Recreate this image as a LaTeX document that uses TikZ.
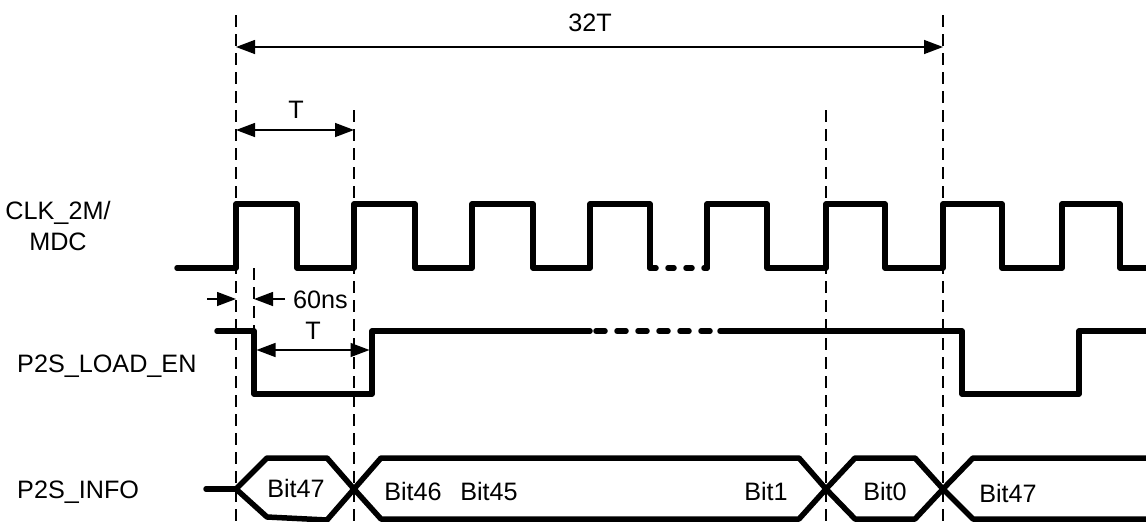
\documentclass[tikz,border=0pt]{standalone}
\usepackage{fontspec}
\setmainfont{Liberation Sans}
\usetikzlibrary{arrows.meta}
\begin{document}
\begin{tikzpicture}[x=1pt,y=-1pt,
  sig/.style={line width=5.5pt, line cap=round, line join=round},
  sigdots/.style={line width=5.5pt, line cap=round, dash pattern=on 6pt off 12pt},
  sigdash/.style={line width=5.5pt, line cap=round, dash pattern=on 9pt off 12pt},
  gridline/.style={line width=2.2pt, dash pattern=on 12pt off 7pt},
  dimarrow/.style={line width=1.4pt, {Triangle[length=19pt,width=14pt]}-{Triangle[length=19pt,width=14pt]}},
  onearrow/.style={line width=1.4pt, -{Triangle[length=19pt,width=14pt]}},
  lbl/.style={font=\fontsize{25.2}{31}\selectfont, inner sep=0pt, anchor=base},
]
\useasboundingbox (0,0) rectangle (1146,522);
% vertical dashed reference lines
\coordinate (g1t) at (236,15);  \coordinate (g1b) at (236,524);
\coordinate (g2t) at (354,110); \coordinate (g2b) at (354,524);
\coordinate (g3t) at (826,110); \coordinate (g3b) at (826,524);
\coordinate (g4t) at (943,15);  \coordinate (g4b) at (943,524);
\coordinate (g5t) at (254,268); \coordinate (g5b) at (254,331);
\draw[gridline] (g1t) -- (g1b);
\draw[gridline] (g2t) -- (g2b);
\draw[gridline] (g3t) -- (g3b);
\draw[gridline] (g4t) -- (g4b);
\draw[gridline] (g5t) -- (g5b);
% dimension arrows
\coordinate (a32l) at (236,47); \coordinate (a32r) at (943,47);
\draw[dimarrow] (a32l) -- (a32r);
\node[lbl] (t32) at (590,31) {32T};
\coordinate (aTl) at (236,130); \coordinate (aTr) at (354,130);
\draw[dimarrow] (aTl) -- (aTr);
\node[lbl] (tT1) at (296,118) {T};
\coordinate (a60a) at (207,299); \coordinate (a60b) at (236,299);
\coordinate (a60c) at (285,299); \coordinate (a60d) at (254,299);
\draw[onearrow] (a60a) -- (a60b);
\draw[onearrow] (a60c) -- (a60d);
\node[lbl, anchor=base west] (t60) at (293,308) {60ns};
\coordinate (aLl) at (256.5,350); \coordinate (aLr) at (369.5,350);
\draw[dimarrow] (aLl) -- (aLr);
\node[lbl] (tT2) at (313,339) {T};
% signal names
\node[lbl, align=center, anchor=base] (nclk) at (58,250) {CLK\_2M/\\MDC};
\node[lbl, anchor=base west] (nload) at (17,372) {P2S\_LOAD\_EN};
\node[lbl, anchor=base west] (ninfo) at (17,498) {P2S\_INFO};
% clock
\draw[sig] (177,268) -- (236,268) -- (236,204) -- (297,204) -- (297,268) -- (354,268) -- (354,204) -- (415,204) -- (415,268) -- (472,268) -- (472,204) -- (533,204) -- (533,268) -- (590,268) -- (590,204) -- (650,204) -- (650,268);
\draw[sigdots] (650,268) -- (707,268);
\draw[sig] (707,268) -- (707,204) -- (767,204) -- (767,268) -- (826,268) -- (826,204) -- (885,204) -- (885,268) -- (943,268) -- (943,204) -- (1002,204) -- (1002,268) -- (1062,268) -- (1062,204) -- (1120,204) -- (1120,268) -- (1150,268);
% load enable
\draw[sig] (217,331) -- (254,331) -- (254,394) -- (372,394) -- (372,331) -- (590,331);
\draw[sigdash] (596,331) -- (720,331);
\draw[sig] (720,331) -- (962,331) -- (962,394) -- (1079,394) -- (1079,331) -- (1150,331);
% info bus
\draw[sig] (206,489) -- (236,489);
\draw[sig] (236,489) -- (267,458) -- (327,458) -- (354,489) -- (327,520) -- (267,517) -- cycle;
\draw[sig] (354,489) -- (381,458) -- (799,458) -- (826,489) -- (799,519) -- (381,519) -- cycle;
\draw[sig] (826,489) -- (855,458) -- (915,458) -- (943,489) -- (915,519) -- (855,519) -- cycle;
\draw[sig] (1150,458) -- (973,458) -- (943,489) -- (973,519) -- (1150,519);
\node[lbl] (b47a) at (296,497) {Bit47};
\node[lbl] (b46) at (413,500) {Bit46};
\node[lbl] (b45) at (489,500) {Bit45};
\node[lbl] (b1) at (766,500) {Bit1};
\node[lbl] (b0) at (885,500) {Bit0};
\node[lbl] (b47b) at (1008,502) {Bit47};
\end{tikzpicture}
\end{document}
